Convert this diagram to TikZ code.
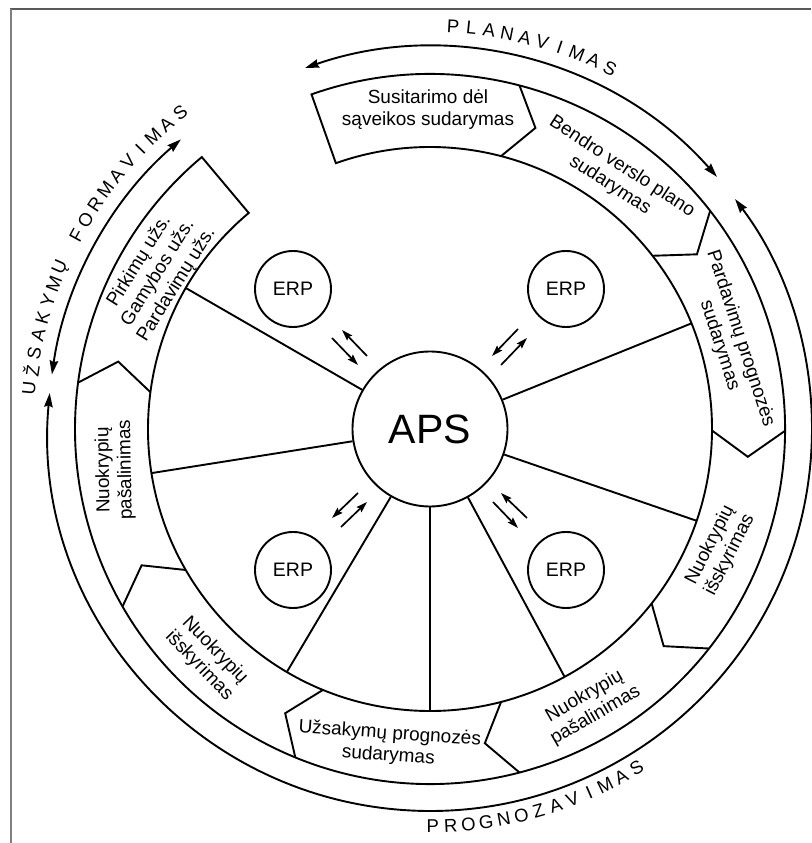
\documentclass[tikz,border=0pt]{standalone}
\usepackage{fontspec}
\setmainfont{Liberation Sans}
\usetikzlibrary{arrows.meta,calc}
\begin{document}
\begin{tikzpicture}[x=1pt,y=1pt,
  ln/.style={line width=1.9pt, line join=miter},
  arcarrow/.style={line width=1.9pt, {Stealth[length=14pt,width=8.5pt,inset=1.5pt]}-{Stealth[length=14pt,width=8.5pt,inset=1.5pt]}},
  smallarrow/.style={line width=1.7pt, -{Stealth[length=11pt,width=7pt,inset=1.5pt]}},
  seg/.style={align=center, font=\fontsize{19}{22}\selectfont, inner sep=0pt},
  letter/.style={font=\fontsize{18.5}{18.5}\selectfont, inner sep=0pt, anchor=center},
  erp/.style={circle, draw, line width=1.9pt, minimum size=76pt, inner sep=0pt, font=\fontsize{19.5}{19.5}\selectfont},
  aps/.style={circle, draw, line width=1.9pt, minimum size=155pt, inner sep=0pt, font=\fontsize{41}{41}\selectfont}
]
\useasboundingbox (0,0) rectangle (811,843);
\coordinate (C) at (430,414);
% frame
\draw[color=black!65, line width=2pt] (10,834) -- (811,834);
\draw[color=black!50, line width=2pt] (11,834) -- (11,0);

% central node
\node[aps] (aps) at (C) {APS};

% band with segments
\begin{scope}[shift={(C)}]
\draw[ln] (109.5:282pt) -- (109.5:355pt) arc[start angle=109.5, end angle=-230, radius=355pt]
  -- (-230:282pt) arc[start angle=-230, end angle=109.5, radius=282pt] -- cycle;
\foreach \a in {75.4,37.9,-0.3,-38.2,-75.4,-112.3,-150,-187.5}{
  \pgfmathsetmacro\b{\a-4.7}
  \draw[ln] (\a:355pt) -- (\b:319pt) -- (\a:282pt);
}
\end{scope}

% spokes
\foreach \a in {22,150,189,-19,-61.5,-90,-120.5}
  \draw[ln] (aps.\a) -- ($(C)+(\a:282pt)$);

% ERP nodes
\node[erp] (erp1) at (293,554) {ERP};
\node[erp] (erp2) at (566,554) {ERP};
\node[erp] (erp3) at (293,273) {ERP};
\node[erp] (erp4) at (566,273) {ERP};

% small arrow pairs
\coordinate (a1s) at (332,505); \coordinate (a1e) at (358,478);
\coordinate (a2s) at (367,487); \coordinate (a2e) at (342,513);
\coordinate (b1s) at (518,514); \coordinate (b1e) at (492,487);
\coordinate (b2s) at (501,478); \coordinate (b2e) at (527,505);
\coordinate (c1s) at (358,350); \coordinate (c1e) at (332,325);
\coordinate (c2s) at (341,316); \coordinate (c2e) at (367,341);
\coordinate (d1s) at (527,325); \coordinate (d1e) at (501,350);
\coordinate (d2s) at (493,341); \coordinate (d2e) at (518,315);
\foreach \p in {a1,a2,b1,b2,c1,c2,d1,d2}
  \draw[smallarrow] (\p s) -- (\p e);

% outer arrow arcs
\draw[arcarrow] ($(C)+(109.1:382pt)$) arc[start angle=109.1, end angle=41.3, radius=382pt];
\draw[arcarrow] ($(C)+(130.7:382pt)$) arc[start angle=130.7, end angle=171.8, radius=382pt];
\draw[arcarrow] ($(C)+(174.6:382pt)$) arc[start angle=174.6, end angle=397, radius=382pt];

% outer labels
\foreach \ch [count=\i from 0] in {P,L,A,N,A,V,I,M,A,S}{
  \pgfmathsetmacro\t{86.7-2.58*\i}
  \pgfmathsetmacro\r{\t-90}
  \node[letter, rotate=\r] (pl\i) at ($(C)+(\t:403pt)$) {\ch};
}
\foreach \ch [count=\i from 0] in {U,Ž,S,A,K,Y,M,Ų,{},F,O,R,M,A,V,I,M,A,S}{
  \pgfmathsetmacro\t{174.2-2.55*\i}
  \pgfmathsetmacro\r{\t-90}
  \node[letter, rotate=\r] (uf\i) at ($(C)+(\t:403pt)$) {\ch};
}
\foreach \ch [count=\i from 0] in {P,R,O,G,N,O,Z,A,V,I,M,A,S}{
  \pgfmathsetmacro\t{-89.6+2.58*\i}
  \pgfmathsetmacro\r{\t+90}
  \node[letter, rotate=\r] (pr\i) at ($(C)+(\t:397pt)$) {\ch};
}

% segment texts
\node[seg] (s1) at (428,733) {Susitarimo dėl\\sąveikos sudarymas};
\node[seg, rotate=-33] (s2) at (616,667) {Bendro verslo plano\\sudarymas};
\node[seg, rotate=-72] (s3) at (730,501) {Pardavimų prognozės\\sudarymas};
\node[seg, rotate=63] (s4) at (720,293) {Nuokrypių\\išskyrimas};
\node[seg, rotate=30] (s5) at (590,137) {Nuokrypių\\pašalinimas};
\node[seg, rotate=-4] (s6) at (389,98) {Užsakymų prognozės\\sudarymas};
\node[seg, rotate=-46] (s7) at (207,185) {Nuokrypių\\išskyrimas};
\node[seg, rotate=91] (s8) at (115,373) {Nuokrypių\\pašalinimas};
\node[seg, rotate=58] (s9) at (158,570) {Pirkimų užs.\\Gamybos užs.\\Pardavimų užs.};
\end{tikzpicture}
\end{document}
